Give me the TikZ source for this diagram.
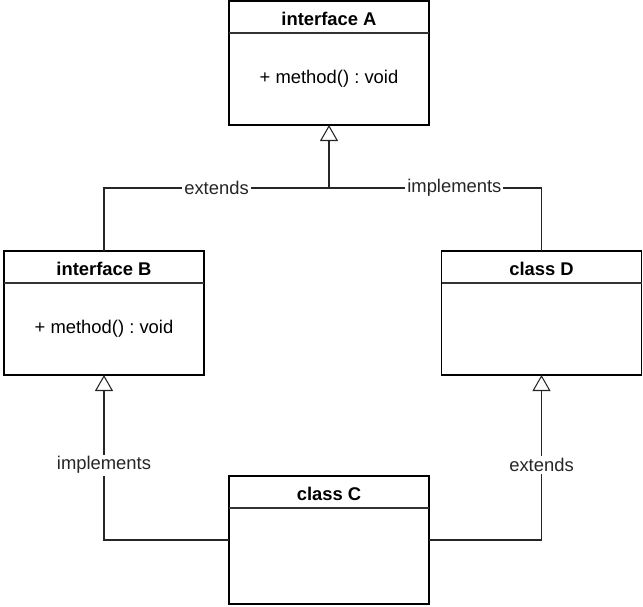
\documentclass[tikz,border=0pt]{standalone}
\usepackage{fontspec}
\setmainfont{Liberation Sans}
\frenchspacing
\usetikzlibrary{arrows.meta}
\begin{document}
\begin{tikzpicture}[x=0.75pt,y=-0.75pt,
  every node/.style={font=\fontsize{13.8}{16}\selectfont},
  umlbox/.style={draw=black,line width=0.9pt,minimum width=150pt,inner sep=0pt,outer sep=0pt},
  boxtitle/.style={font=\fontsize{13.8}{16}\selectfont\bfseries,inner sep=0pt},
  member/.style={inner sep=0pt},
  divider/.style={draw=black!80,line width=0.9pt},
  rel/.style={draw=black!85,line width=0.8pt,-{Triangle[open,width=13.5pt,length=12pt]}},
  lbl/.style={fill=white,inner sep=1.5pt,text=black!85}]
\useasboundingbox (0,0) rectangle (643,607);
% boxes
\node[umlbox,minimum height=93pt] (A) at (329,63) {};
\node[umlbox,minimum height=93pt] (B) at (104,313) {};
\node[umlbox,minimum height=93pt] (D) at (541.5,313) {};
\node[umlbox,minimum height=96pt] (C) at (329,540) {};
% dividers
\draw[divider] ([yshift=-24pt]A.north west) -- ([yshift=-24pt]A.north east);
\draw[divider] ([yshift=-24pt]B.north west) -- ([yshift=-24pt]B.north east);
\draw[divider] ([yshift=-24pt]D.north west) -- ([yshift=-24pt]D.north east);
\draw[divider] ([yshift=-24pt]C.north west) -- ([yshift=-24pt]C.north east);
% titles and members
\node[boxtitle] (At) at (329,18.5) {interface A};
\node[member] (Am) at (329,79) {+ method() : void};
\node[boxtitle] (Bt) at (104,268.5) {interface B};
\node[member] (Bm) at (104,329) {+ method() : void};
\node[boxtitle] (Dt) at (541.5,268.5) {class D};
\node[boxtitle] (Ct) at (329,493.5) {class C};
% connectors
\coordinate (j) at (329,188);
\draw[draw=black!85,line width=0.8pt] (B.north) |- (j) node[lbl,pos=0.75] {extends};
\draw[draw=black!85,line width=0.8pt] (D.north) |- (j) node[lbl,pos=0.705] {implements};
\draw[rel] (j) -- (A.south);
\draw[rel] (C.west) -| (B.south) node[lbl,pos=0.727] {implements};
\draw[rel] (C.east) -| (D.south) node[lbl,pos=0.727] {extends};
\end{tikzpicture}
\end{document}
